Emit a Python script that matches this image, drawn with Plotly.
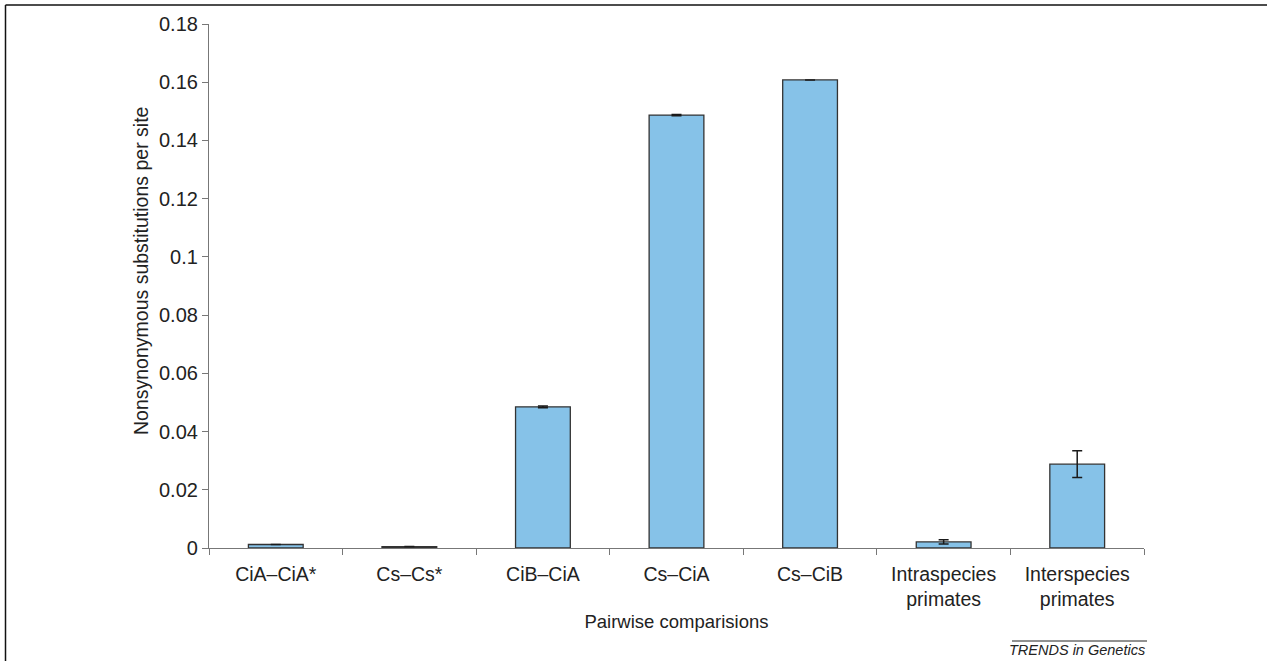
import plotly.graph_objects as go

categories = ["CiA–CiA*", "Cs–Cs*", "CiB–CiA", "Cs–CiA", "Cs–CiB",
              "Intraspecies<br>primates", "Interspecies<br>primates"]
values = [0.0012, 0.0005, 0.0485, 0.1487, 0.1608, 0.0021, 0.0288]
errors = [0.0, 0.0, 0.0003, 0.0002, 0.0, 0.0007, 0.0046]
y_ticks = [0, 0.02, 0.04, 0.06, 0.08, 0.1, 0.12, 0.14, 0.16, 0.18]
y_ticklabels = ["0", "0.02", "0.04", "0.06", "0.08", "0.1", "0.12", "0.14", "0.16", "0.18"]

FONT = "Liberation Sans, Arial, sans-serif"
W, H = 1267, 661
L, R, T, B = 209, 123, 24, 113
pw, ph = W - L - R, H - T - B

def px_x(px):
    return (px - L) / pw

def px_y(py):
    return (H - B - py) / ph

fig = go.Figure()
fig.add_trace(go.Bar(
    x=categories, y=values, width=0.41,
    marker=dict(color="#86C2E8", line=dict(color="#333333", width=1.3)),
    error_y=dict(type="data", array=errors, visible=True, color="#1a1a1a",
                 thickness=1.5, width=5),
    hoverinfo="skip",
))

fig.update_layout(
    width=W, height=H, autosize=False,
    margin=dict(l=L, r=R, t=T, b=B, pad=0),
    paper_bgcolor="white", plot_bgcolor="white",
    showlegend=False,
    font=dict(family=FONT, size=18, color="#222"),
    xaxis=dict(
        showline=True, linecolor="#777", linewidth=1.2,
        ticks="outside", tickson="boundaries", ticklen=6, tickcolor="#777",
        ticklabelstandoff=8,
        tickfont=dict(size=19.5, color="#222"),
        showgrid=False, zeroline=False,
        title=dict(text="Pairwise comparisions", font=dict(size=18.5, color="#222"), standoff=6),
    ),
    yaxis=dict(
        range=[0, 0.18], showline=True, linecolor="#777", linewidth=1.2,
        ticks="outside", ticklen=6, tickcolor="#777",
        tickvals=y_ticks, ticktext=y_ticklabels,
        tickfont=dict(size=20, color="#222"),
        showgrid=False, zeroline=False,
    ),
    shapes=[
        dict(type="line", xref="paper", yref="paper",
             x0=px_x(5.5), x1=px_x(1267), y0=px_y(5), y1=px_y(5),
             line=dict(color="#111", width=1.5)),
        dict(type="line", xref="paper", yref="paper",
             x0=px_x(5.5), x1=px_x(5.5), y0=px_y(5), y1=px_y(661),
             line=dict(color="#111", width=1.5)),
        dict(type="line", xref="paper", yref="paper",
             x0=px_x(1012), x1=px_x(1147), y0=px_y(641), y1=px_y(641),
             line=dict(color="#222", width=1)),
    ],
    annotations=[
        dict(text="Nonsynonymous substitutions per site", xref="paper", yref="paper",
             x=px_x(141), y=px_y(271), xanchor="center", yanchor="middle",
             textangle=-90, showarrow=False,
             font=dict(size=19.5, color="#222", family=FONT)),
        dict(text="<i>TRENDS in Genetics</i>", xref="paper", yref="paper",
             x=px_x(1147), y=px_y(650), xanchor="right", yanchor="middle",
             showarrow=False, font=dict(size=14.5, color="#222", family=FONT)),
    ],
)

fig.write_html("out.html", config={"displayModeBar": False},
               post_script="document.body.style.margin='0';document.body.style.padding='0';")
